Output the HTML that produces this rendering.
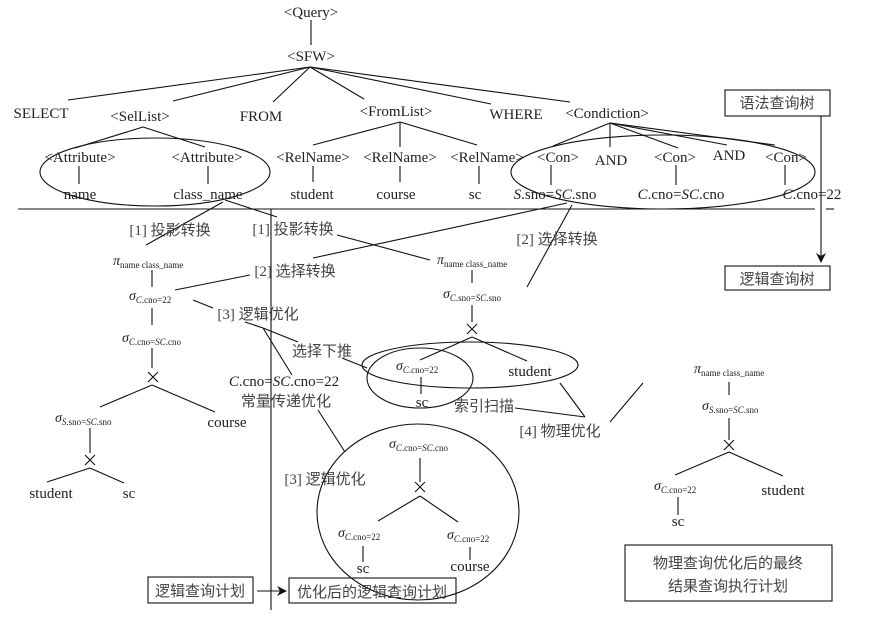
<!DOCTYPE html>
<html><head><meta charset="utf-8"><style>
html,body{margin:0;padding:0;background:#fff;}
svg{display:block;}
text{font-family:"Liberation Serif","Noto Serif CJK SC",serif;fill:#222;}
.c{font-family:"Liberation Serif","Noto Sans CJK SC",sans-serif;fill:#444;}
</style></head><body>
<svg width="878" height="620" viewBox="0 0 878 620" xmlns="http://www.w3.org/2000/svg">
<defs><marker id="ar" markerWidth="10" markerHeight="10" refX="9" refY="5" orient="auto" markerUnits="userSpaceOnUse"><path d="M0,0 L10,5 L0,10 L3,5 z" fill="#111"/></marker></defs>
<g stroke="#111" stroke-width="1.1" fill="none">
<line x1="311" y1="20" x2="311" y2="45"/>
<line x1="310" y1="67" x2="68" y2="100"/>
<line x1="310" y1="67" x2="173" y2="101"/>
<line x1="310" y1="67" x2="273" y2="102"/>
<line x1="310" y1="67" x2="364" y2="99"/>
<line x1="310" y1="67" x2="491" y2="104"/>
<line x1="310" y1="67" x2="570" y2="102"/>
<line x1="143" y1="127" x2="75" y2="148"/>
<line x1="143" y1="127" x2="205" y2="147"/>
<line x1="79" y1="166" x2="79" y2="184"/>
<line x1="208" y1="166" x2="208" y2="184"/>
<ellipse cx="155" cy="172" rx="115" ry="34"/>
<line x1="400" y1="122" x2="313" y2="145"/>
<line x1="400" y1="122" x2="400" y2="147"/>
<line x1="400" y1="122" x2="477" y2="145"/>
<line x1="313" y1="166" x2="313" y2="182"/>
<line x1="400" y1="166" x2="400" y2="182"/>
<line x1="479" y1="166" x2="479" y2="184"/>
<line x1="610" y1="123" x2="553" y2="146"/>
<line x1="610" y1="123" x2="610" y2="147"/>
<line x1="610" y1="123" x2="678" y2="148"/>
<line x1="610" y1="123" x2="727" y2="145"/>
<line x1="610" y1="123" x2="775" y2="145"/>
<line x1="551" y1="165" x2="551" y2="185"/>
<line x1="676" y1="165" x2="676" y2="185"/>
<line x1="785" y1="165" x2="785" y2="185"/>
<ellipse cx="663" cy="172" rx="152" ry="37"/>
<rect x="725" y="90" width="105" height="26"/>
<rect x="725" y="266" width="105" height="24"/>
<line x1="821" y1="116" x2="821" y2="262" marker-end="url(#ar)"/>
<line x1="18" y1="209" x2="815" y2="209"/>
<line x1="826" y1="209" x2="834" y2="209"/>
<line x1="271" y1="209" x2="271" y2="610"/>
<line x1="223" y1="202" x2="146" y2="245"/>
<line x1="225" y1="200" x2="277" y2="217"/>
<line x1="337" y1="235" x2="430" y2="260"/>
<line x1="567" y1="203" x2="313" y2="258"/>
<line x1="572" y1="205" x2="527" y2="287"/>
<line x1="175" y1="290" x2="250" y2="275"/>
<line x1="193" y1="300" x2="213" y2="308"/>
<line x1="245" y1="322" x2="263" y2="328"/>
<line x1="263" y1="328" x2="298" y2="342"/>
<line x1="263" y1="328" x2="292" y2="375"/>
<line x1="342" y1="358" x2="367" y2="368"/>
<line x1="318" y1="410" x2="345" y2="452"/>
<line x1="152" y1="270" x2="152" y2="287"/>
<line x1="152" y1="308" x2="152" y2="325"/>
<line x1="152" y1="348" x2="152" y2="368"/>
<path d="M148,372 L158,382 M158,372 L148,382"/>
<line x1="152" y1="385" x2="100" y2="407"/>
<line x1="152" y1="385" x2="215" y2="412"/>
<line x1="90" y1="428" x2="90" y2="453"/>
<path d="M85,455 L95,465 M95,455 L85,465"/>
<line x1="90" y1="468" x2="47" y2="482"/>
<line x1="90" y1="468" x2="124" y2="483"/>
<line x1="472" y1="270" x2="472" y2="283"/>
<line x1="472" y1="305" x2="472" y2="322"/>
<path d="M467,324 L477,334 M477,324 L467,334"/>
<line x1="472" y1="337" x2="420" y2="360"/>
<line x1="472" y1="337" x2="527" y2="361"/>
<ellipse cx="470" cy="365" rx="108" ry="23"/>
<ellipse cx="420" cy="378" rx="53" ry="30"/>
<line x1="421" y1="377" x2="421" y2="394"/>
<line x1="515" y1="408" x2="585" y2="417"/>
<line x1="560" y1="383" x2="585" y2="417"/>
<line x1="610" y1="422" x2="643" y2="383"/>
<ellipse cx="418" cy="512" rx="101" ry="88"/>
<line x1="420" y1="458" x2="420" y2="482"/>
<path d="M415,482 L425,492 M425,482 L415,492"/>
<line x1="420" y1="496" x2="378" y2="521"/>
<line x1="420" y1="496" x2="458" y2="522"/>
<line x1="363" y1="546" x2="363" y2="562"/>
<line x1="470" y1="547" x2="470" y2="560"/>
<rect x="148" y="577" width="105" height="26"/>
<line x1="257" y1="591" x2="286" y2="591" marker-end="url(#ar)"/>
<rect x="289" y="578" width="167" height="25"/>
<line x1="729" y1="382" x2="729" y2="395"/>
<line x1="729" y1="418" x2="729" y2="440"/>
<path d="M724,440 L734,450 M734,440 L724,450"/>
<line x1="729" y1="452" x2="675" y2="475"/>
<line x1="729" y1="452" x2="783" y2="476"/>
<line x1="678" y1="497" x2="678" y2="515"/>
<rect x="625" y="545" width="207" height="56"/>
</g>
<g font-size="15" text-anchor="middle">
<text x="311" y="17">&lt;Query&gt;</text>
<text x="311" y="61">&lt;SFW&gt;</text>
<text x="41" y="118">SELECT</text>
<text x="140" y="121">&lt;SelList&gt;</text>
<text x="261" y="121">FROM</text>
<text x="396" y="116">&lt;FromList&gt;</text>
<text x="516" y="119">WHERE</text>
<text x="607" y="118">&lt;Condiction&gt;</text>
<text x="80" y="162">&lt;Attribute&gt;</text>
<text x="207" y="162">&lt;Attribute&gt;</text>
<text x="80" y="199">name</text>
<text x="208" y="199">class_name</text>
<text x="313" y="162">&lt;RelName&gt;</text>
<text x="400" y="162">&lt;RelName&gt;</text>
<text x="487" y="162">&lt;RelName&gt;</text>
<text x="312" y="199">student</text>
<text x="396" y="199">course</text>
<text x="475" y="199">sc</text>
<text x="558" y="162">&lt;Con&gt;</text>
<text x="611" y="165">AND</text>
<text x="675" y="162">&lt;Con&gt;</text>
<text x="729" y="160">AND</text>
<text x="786" y="162">&lt;Con&gt;</text>
<text x="555" y="199"><tspan font-style="italic">S</tspan>.sno=<tspan font-style="italic">SC</tspan>.sno</text>
<text x="681" y="199"><tspan font-style="italic">C</tspan>.cno=<tspan font-style="italic">SC</tspan>.cno</text>
<text x="812" y="199"><tspan font-style="italic">C</tspan>.cno=22</text>
<text x="227" y="427">course</text>
<text x="51" y="498">student</text>
<text x="129" y="498">sc</text>
<text x="530" y="376">student</text>
<text x="422" y="407">sc</text>
<text x="284" y="386"><tspan font-style="italic">C</tspan>.cno=<tspan font-style="italic">SC</tspan>.cno=22</text>
<text x="363" y="573">sc</text>
<text x="470" y="571">course</text>
<text x="783" y="495">student</text>
<text x="678" y="526">sc</text>
</g>
<g font-size="15" text-anchor="middle">
<text class="c" x="777" y="108">语法查询树</text>
<text class="c" x="777" y="284">逻辑查询树</text>
<text class="c" x="170" y="235">[1] 投影转换</text>
<text class="c" x="293" y="234">[1] 投影转换</text>
<text class="c" x="295" y="276">[2] 选择转换</text>
<text class="c" x="557" y="244">[2] 选择转换</text>
<text class="c" x="258" y="319">[3] 逻辑优化</text>
<text class="c" x="322" y="356">选择下推</text>
<text class="c" x="286" y="406">常量传递优化</text>
<text class="c" x="325" y="484">[3] 逻辑优化</text>
<text class="c" x="484" y="411">索引扫描</text>
<text class="c" x="560" y="436">[4] 物理优化</text>
<text class="c" x="200" y="596">逻辑查询计划</text>
<text class="c" x="372" y="597">优化后的逻辑查询计划</text>
<text class="c" x="728" y="568">物理查询优化后的最终</text>
<text class="c" x="728" y="591">结果查询执行计划</text>
</g>
<g font-size="14">
<text x="113" y="265"><tspan font-style="italic">π</tspan><tspan font-size="9" dy="3">name class_name</tspan></text>
<text x="129" y="300"><tspan font-style="italic">σ</tspan><tspan font-size="9" dy="3"><tspan font-style="italic">C</tspan>.cno=22</tspan></text>
<text x="122" y="342"><tspan font-style="italic">σ</tspan><tspan font-size="9" dy="3"><tspan font-style="italic">C</tspan>.cno=<tspan font-style="italic">SC</tspan>.cno</tspan></text>
<text x="55" y="422"><tspan font-style="italic">σ</tspan><tspan font-size="9" dy="3"><tspan font-style="italic">S</tspan>.sno=<tspan font-style="italic">SC</tspan>.sno</tspan></text>
<text x="437" y="264"><tspan font-style="italic">π</tspan><tspan font-size="9" dy="3">name class_name</tspan></text>
<text x="443" y="298"><tspan font-style="italic">σ</tspan><tspan font-size="9" dy="3"><tspan font-style="italic">C</tspan>.sno=<tspan font-style="italic">SC</tspan>.sno</tspan></text>
<text x="396" y="370"><tspan font-style="italic">σ</tspan><tspan font-size="9" dy="3"><tspan font-style="italic">C</tspan>.cno=22</tspan></text>
<text x="389" y="448"><tspan font-style="italic">σ</tspan><tspan font-size="9" dy="3"><tspan font-style="italic">C</tspan>.cno=<tspan font-style="italic">SC</tspan>.cno</tspan></text>
<text x="338" y="537"><tspan font-style="italic">σ</tspan><tspan font-size="9" dy="3"><tspan font-style="italic">C</tspan>.cno=22</tspan></text>
<text x="447" y="539"><tspan font-style="italic">σ</tspan><tspan font-size="9" dy="3"><tspan font-style="italic">C</tspan>.cno=22</tspan></text>
<text x="694" y="373"><tspan font-style="italic">π</tspan><tspan font-size="9" dy="3">name class_name</tspan></text>
<text x="702" y="410"><tspan font-style="italic">σ</tspan><tspan font-size="9" dy="3"><tspan font-style="italic">S</tspan>.sno=<tspan font-style="italic">SC</tspan>.sno</tspan></text>
<text x="654" y="490"><tspan font-style="italic">σ</tspan><tspan font-size="9" dy="3"><tspan font-style="italic">C</tspan>.cno=22</tspan></text>
</g>
</svg>
</body></html>
